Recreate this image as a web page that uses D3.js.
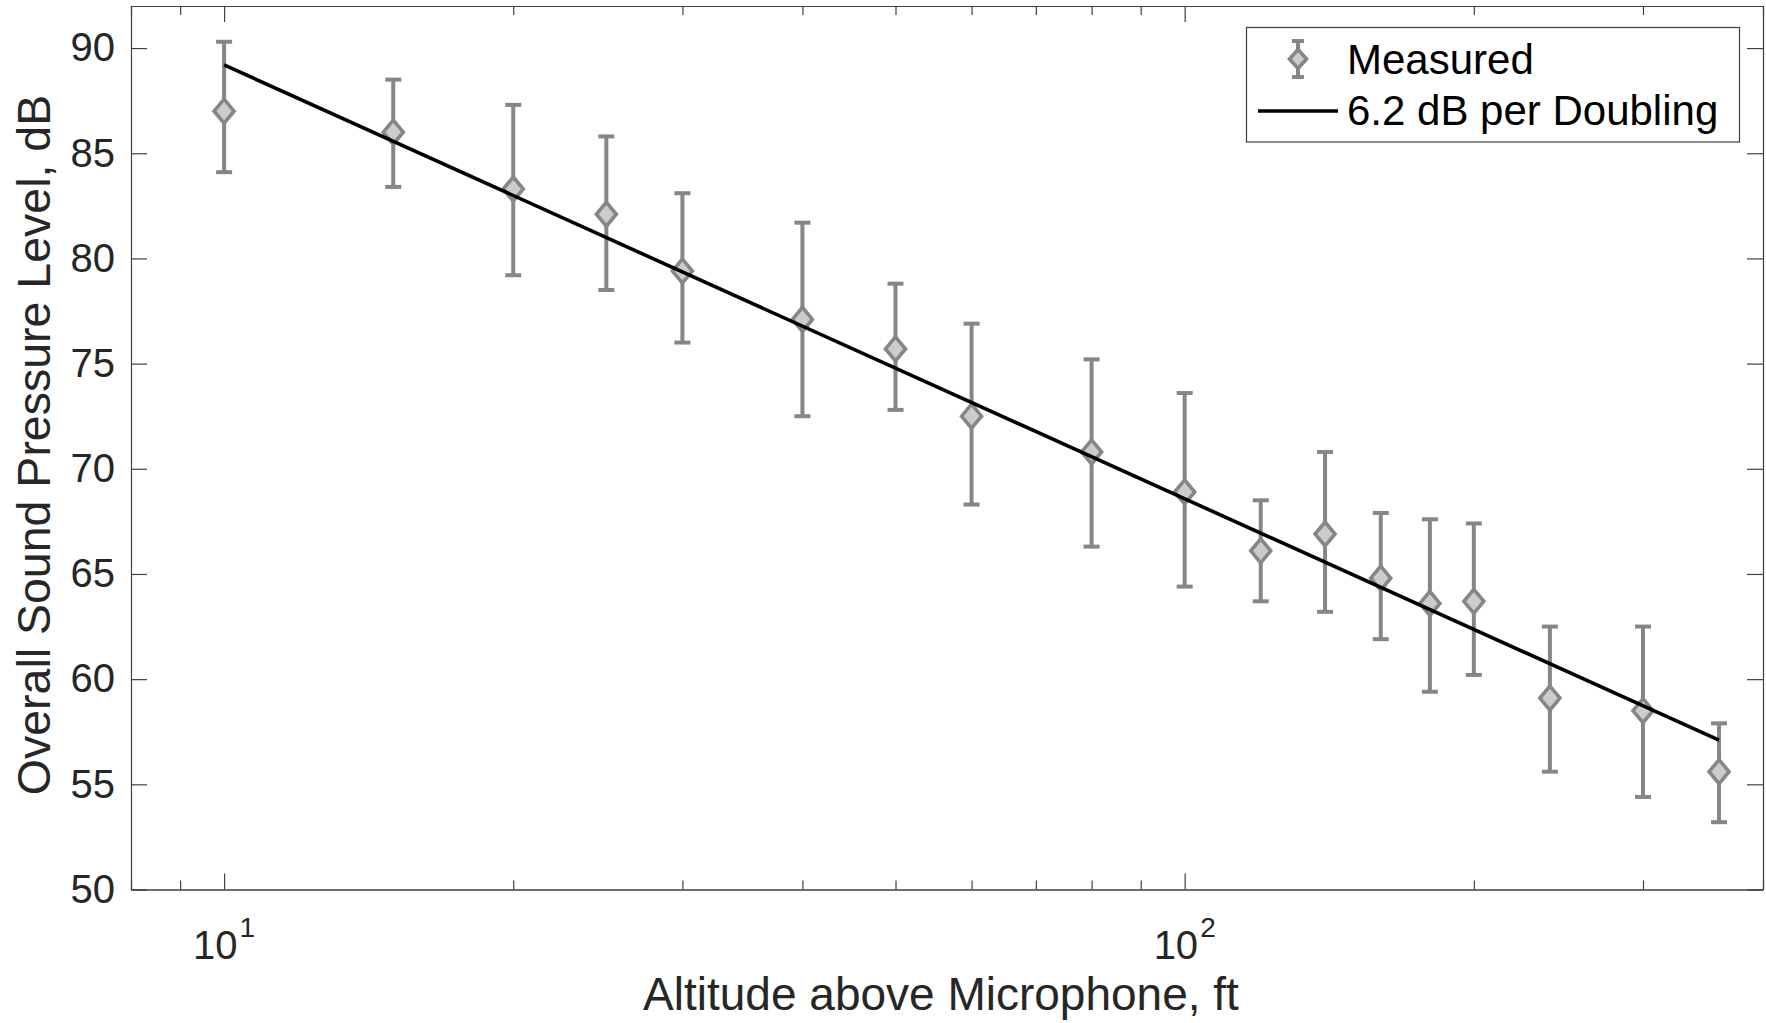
<!DOCTYPE html>
<html>
<head>
<meta charset="utf-8">
<script src="https://cdn.jsdelivr.net/npm/d3@7/dist/d3.min.js"></script>
<style>
  html, body { margin: 0; padding: 0; background: #ffffff; }
  svg { display: block; }
  text { font-family: "Liberation Sans", Arial, Helvetica, sans-serif; }
</style>
</head>
<body>
<svg id="chart" width="1766" height="1023"></svg>
<script>
// ---- Data ----
const altitudes = [10, 15, 20, 25, 30, 40, 50, 60, 80, 100, 120, 140, 160, 180, 200, 240, 300, 360];
const splMean   = [87.0, 86.0, 83.3, 82.1, 79.4, 77.1, 75.7, 72.5, 70.8, 68.9, 66.1, 66.9, 64.8, 63.6, 63.7, 59.1, 58.5, 55.6];
const splUpper  = [90.3, 88.5, 87.3, 85.8, 83.1, 81.7, 78.8, 76.9, 75.2, 73.6, 68.5, 70.8, 67.9, 67.6, 67.4, 62.5, 62.5, 57.9];
const splLower  = [84.1, 83.4, 79.2, 78.5, 76.0, 72.5, 72.8, 68.3, 66.3, 64.4, 63.7, 63.2, 61.9, 59.4, 60.2, 55.6, 54.4, 53.2];

const fitAltitudes = [10, 360];
const fitSpl       = [89.2, 57.1];

const yTicks = [50, 55, 60, 65, 70, 75, 80, 85, 90];
const xMajorTicks = [10, 100];
const xTickExponents = ["1", "2"];
const xMinorTicks = [8, 9, 20, 30, 40, 50, 60, 70, 80, 90, 200, 300, 400];

const legendLabels = ["Measured", "6.2 dB per Doubling"];
const xTitle = "Altitude above Microphone, ft";
const yTitle = "Overall Sound Pressure Level, dB";

// ---- Layout ----
const W = 1766, H = 1023;
const plot = { left: 131, right: 1763, top: 6, bottom: 889.5 };
const axisColor = "#404040";
const textColor = "#262626";
const barColor = "#868686";
const markerFill = "#cccccc";

const svg = d3.select("#chart");
svg.append("rect").attr("width", W).attr("height", H).attr("fill", "#fff");

const x = d3.scaleLog().domain([8, 400]).range([plot.left, plot.right]);
const y = d3.scaleLinear().domain([50, 92]).range([plot.bottom, plot.top]);

const points = altitudes.map((a, i) => ({ a, m: splMean[i], hi: splUpper[i], lo: splLower[i] }));

// ---- Axes (box with inward ticks) ----
function styleAxis(g) {
  g.selectAll("path.domain").attr("stroke", axisColor).attr("stroke-width", 1.2);
  g.selectAll(".tick line").attr("stroke", axisColor).attr("stroke-width", 1.2);
}

svg.append("g").attr("transform", `translate(0,${plot.bottom})`)
  .call(d3.axisBottom(x).tickValues(xMajorTicks).tickSizeInner(-16).tickSizeOuter(0).tickFormat(""))
  .call(styleAxis);
svg.append("g").attr("transform", `translate(0,${plot.bottom})`)
  .call(d3.axisBottom(x).tickValues(xMinorTicks).tickSizeInner(-9).tickSizeOuter(0).tickFormat(""))
  .call(styleAxis);
svg.append("g").attr("transform", `translate(0,${plot.top})`)
  .call(d3.axisTop(x).tickValues(xMajorTicks).tickSizeInner(-16).tickSizeOuter(0).tickFormat(""))
  .call(styleAxis);
svg.append("g").attr("transform", `translate(0,${plot.top})`)
  .call(d3.axisTop(x).tickValues(xMinorTicks).tickSizeInner(-9).tickSizeOuter(0).tickFormat(""))
  .call(styleAxis);
const yAxisG = svg.append("g").attr("transform", `translate(${plot.left},0)`)
  .call(d3.axisLeft(y).tickValues(yTicks).tickSizeInner(-16).tickSizeOuter(0).tickPadding(16))
  .call(styleAxis);
yAxisG.selectAll(".tick text")
  .attr("font-size", 40).attr("fill", textColor)
  .attr("font-family", "Liberation Sans, Arial, sans-serif");
svg.append("g").attr("transform", `translate(${plot.right},0)`)
  .call(d3.axisRight(y).tickValues(yTicks).tickSizeInner(-16).tickSizeOuter(0).tickFormat(""))
  .call(styleAxis);

// x major labels 10^n
const xl = svg.append("g");
xMajorTicks.forEach((v, i) => {
  const t = xl.append("text")
    .attr("x", x(v)).attr("y", 959)
    .attr("text-anchor", "middle")
    .attr("font-size", 40).attr("fill", textColor);
  t.append("tspan").text("10");
  t.append("tspan").attr("dy", -22).attr("dx", 2).attr("font-size", 28).text(xTickExponents[i]);
});

// ---- Error bars ----
const capHalf = 8;
const eb = svg.append("g").attr("stroke", barColor).attr("stroke-width", 4).attr("fill", "none");
eb.selectAll("line.v").data(points).join("line")
  .attr("x1", d => x(d.a)).attr("x2", d => x(d.a))
  .attr("y1", d => y(d.hi)).attr("y2", d => y(d.lo));
eb.selectAll("line.top").data(points).join("line").attr("class", "top")
  .attr("x1", d => x(d.a) - capHalf).attr("x2", d => x(d.a) + capHalf)
  .attr("y1", d => y(d.hi)).attr("y2", d => y(d.hi));
eb.selectAll("line.bot").data(points).join("line").attr("class", "bot")
  .attr("x1", d => x(d.a) - capHalf).attr("x2", d => x(d.a) + capHalf)
  .attr("y1", d => y(d.lo)).attr("y2", d => y(d.lo));

// ---- Diamond markers ----
function diamond(cx, cy, hw, hh) {
  return `M${cx},${cy - hh}L${cx + hw},${cy}L${cx},${cy + hh}L${cx - hw},${cy}Z`;
}
svg.append("g").selectAll("path").data(points).join("path")
  .attr("d", d => diamond(x(d.a), y(d.m), 10, 12))
  .attr("fill", markerFill).attr("stroke", barColor).attr("stroke-width", 3.6)
  .attr("stroke-linejoin", "miter");

// ---- Fit line ----
const line = d3.line().x(d => x(d[0])).y(d => y(d[1]));
svg.append("path")
  .datum(fitAltitudes.map((a, i) => [a, fitSpl[i]]))
  .attr("d", line)
  .attr("fill", "none").attr("stroke", "#000").attr("stroke-width", 3.6);

// ---- Axis titles ----
svg.append("text")
  .attr("x", 941).attr("y", 1010)
  .attr("text-anchor", "middle").attr("font-size", 46).attr("fill", textColor)
  .text(xTitle);
svg.append("text")
  .attr("transform", `translate(50,445) rotate(-90)`)
  .attr("text-anchor", "middle").attr("font-size", 46.5).attr("fill", textColor)
  .text(yTitle);

// ---- Legend ----
const lg = svg.append("g");
lg.append("rect")
  .attr("x", 1246.5).attr("y", 27.5).attr("width", 493).attr("height", 114.5)
  .attr("fill", "#fff").attr("stroke", axisColor).attr("stroke-width", 1.2);
const icx = 1298;
lg.append("line").attr("x1", icx).attr("x2", icx).attr("y1", 41).attr("y2", 77)
  .attr("stroke", barColor).attr("stroke-width", 4);
[41, 77].forEach(cy => lg.append("line")
  .attr("x1", icx - 6).attr("x2", icx + 6).attr("y1", cy).attr("y2", cy)
  .attr("stroke", barColor).attr("stroke-width", 4));
lg.append("path").attr("d", diamond(icx, 59, 8.5, 9.5))
  .attr("fill", markerFill).attr("stroke", barColor).attr("stroke-width", 3.6);
lg.append("line").attr("x1", 1258).attr("x2", 1338).attr("y1", 111).attr("y2", 111)
  .attr("stroke", "#000").attr("stroke-width", 3.6);
lg.append("text").attr("x", 1347).attr("y", 74).attr("font-size", 42).attr("fill", "#000").text(legendLabels[0]);
lg.append("text").attr("x", 1347).attr("y", 125).attr("font-size", 42).attr("fill", "#000").text(legendLabels[1]);
</script>
</body>
</html>
